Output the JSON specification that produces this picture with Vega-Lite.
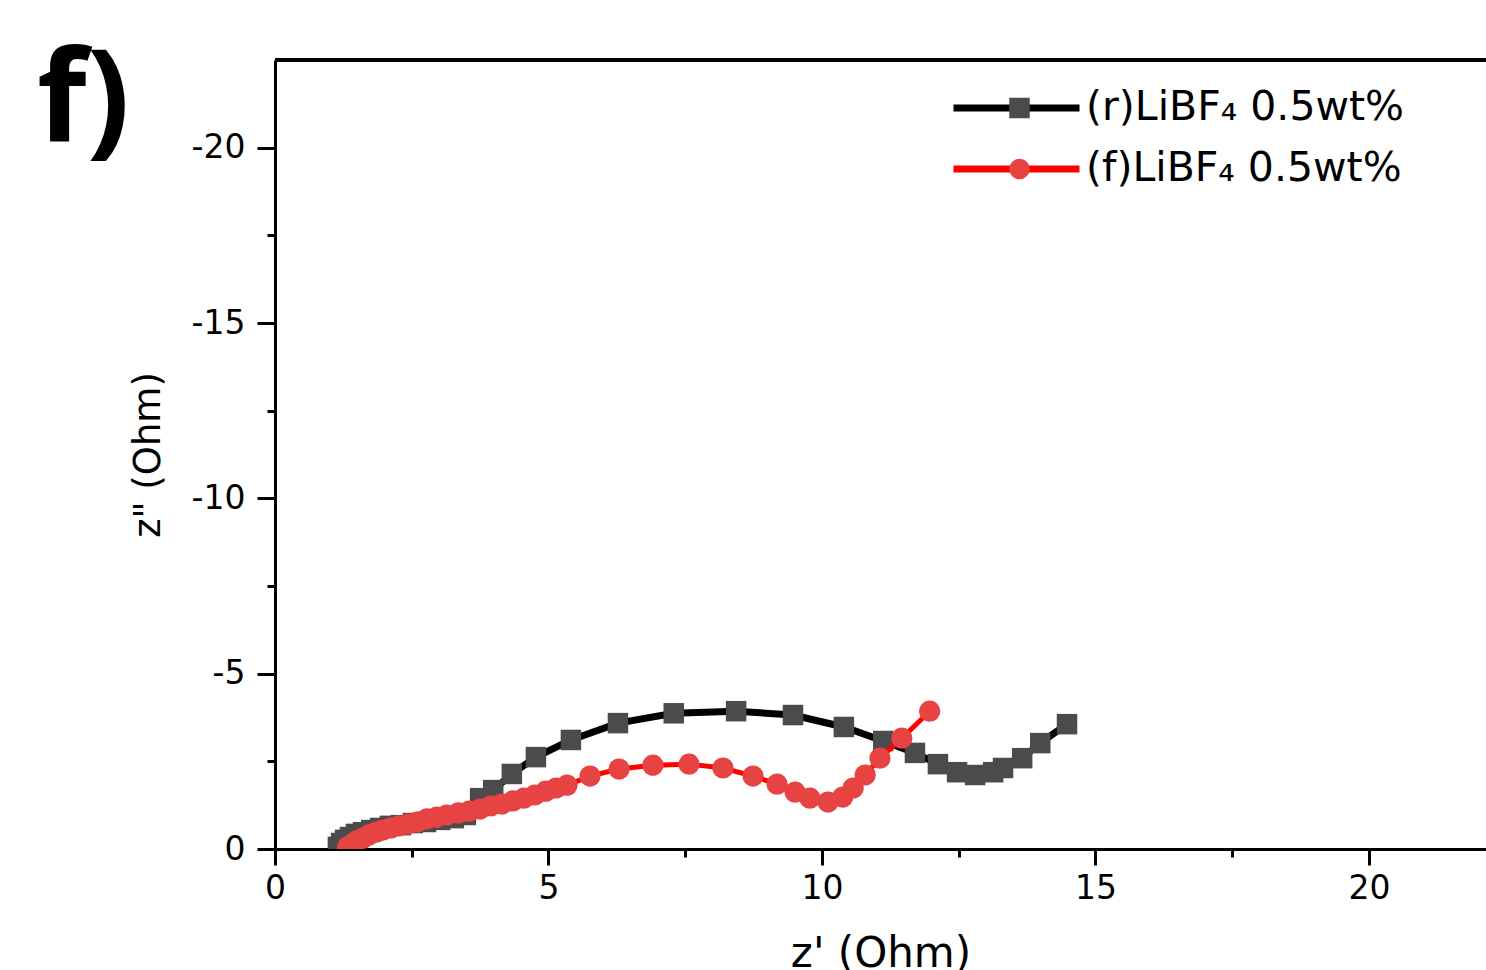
{
  "$schema": "https://vega.github.io/schema/vega-lite/v6.json",
  "autosize": {"type": "none"},
  "padding": {"left": 275, "top": 60, "right": 0, "bottom": 121},
  "width": 1211,
  "height": 789,
  "background": "white",
  "config": {"view": {"stroke": null}},
  "title": {
    "text": "f)",
    "anchor": "start",
    "frame": "group",
    "font": "Open Sans",
    "fontSize": 128,
    "fontWeight": "bold",
    "color": "black",
    "baseline": "alphabetic",
    "offset": 0,
    "dx": -238,
    "dy": 210
  },
  "data": {
    "values": [
      {"series": "(r)LiBF₄ 0.5wt%", "zr": 1.15, "zi": -0.06},
      {"series": "(r)LiBF₄ 0.5wt%", "zr": 1.21, "zi": -0.17},
      {"series": "(r)LiBF₄ 0.5wt%", "zr": 1.28, "zi": -0.26},
      {"series": "(r)LiBF₄ 0.5wt%", "zr": 1.37, "zi": -0.34},
      {"series": "(r)LiBF₄ 0.5wt%", "zr": 1.48, "zi": -0.43},
      {"series": "(r)LiBF₄ 0.5wt%", "zr": 1.61, "zi": -0.48},
      {"series": "(r)LiBF₄ 0.5wt%", "zr": 1.76, "zi": -0.54},
      {"series": "(r)LiBF₄ 0.5wt%", "zr": 1.92, "zi": -0.6},
      {"series": "(r)LiBF₄ 0.5wt%", "zr": 2.1, "zi": -0.66},
      {"series": "(r)LiBF₄ 0.5wt%", "zr": 2.3, "zi": -0.68},
      {"series": "(r)LiBF₄ 0.5wt%", "zr": 2.52, "zi": -0.74},
      {"series": "(r)LiBF₄ 0.5wt%", "zr": 2.76, "zi": -0.77},
      {"series": "(r)LiBF₄ 0.5wt%", "zr": 3.02, "zi": -0.83},
      {"series": "(r)LiBF₄ 0.5wt%", "zr": 3.27, "zi": -0.88},
      {"series": "(r)LiBF₄ 0.5wt%", "zr": 3.49, "zi": -0.97},
      {"series": "(r)LiBF₄ 0.5wt%", "zr": 3.75, "zi": -1.45},
      {"series": "(r)LiBF₄ 0.5wt%", "zr": 3.99, "zi": -1.68},
      {"series": "(r)LiBF₄ 0.5wt%", "zr": 4.33, "zi": -2.14},
      {"series": "(r)LiBF₄ 0.5wt%", "zr": 4.77, "zi": -2.62},
      {"series": "(r)LiBF₄ 0.5wt%", "zr": 5.41, "zi": -3.11},
      {"series": "(r)LiBF₄ 0.5wt%", "zr": 6.27, "zi": -3.59},
      {"series": "(r)LiBF₄ 0.5wt%", "zr": 7.29, "zi": -3.87},
      {"series": "(r)LiBF₄ 0.5wt%", "zr": 8.43, "zi": -3.93},
      {"series": "(r)LiBF₄ 0.5wt%", "zr": 9.47, "zi": -3.82},
      {"series": "(r)LiBF₄ 0.5wt%", "zr": 10.4, "zi": -3.48},
      {"series": "(r)LiBF₄ 0.5wt%", "zr": 11.12, "zi": -3.08},
      {"series": "(r)LiBF₄ 0.5wt%", "zr": 11.7, "zi": -2.74},
      {"series": "(r)LiBF₄ 0.5wt%", "zr": 12.12, "zi": -2.42},
      {"series": "(r)LiBF₄ 0.5wt%", "zr": 12.47, "zi": -2.19},
      {"series": "(r)LiBF₄ 0.5wt%", "zr": 12.8, "zi": -2.11},
      {"series": "(r)LiBF₄ 0.5wt%", "zr": 13.13, "zi": -2.19},
      {"series": "(r)LiBF₄ 0.5wt%", "zr": 13.31, "zi": -2.31},
      {"series": "(r)LiBF₄ 0.5wt%", "zr": 13.66, "zi": -2.59},
      {"series": "(r)LiBF₄ 0.5wt%", "zr": 13.99, "zi": -3.02},
      {"series": "(r)LiBF₄ 0.5wt%", "zr": 14.48, "zi": -3.56},
      {"series": "(f)LiBF₄ 0.5wt%", "zr": 1.33, "zi": -0.06},
      {"series": "(f)LiBF₄ 0.5wt%", "zr": 1.41, "zi": -0.14},
      {"series": "(f)LiBF₄ 0.5wt%", "zr": 1.5, "zi": -0.23},
      {"series": "(f)LiBF₄ 0.5wt%", "zr": 1.61, "zi": -0.31},
      {"series": "(f)LiBF₄ 0.5wt%", "zr": 1.72, "zi": -0.4},
      {"series": "(f)LiBF₄ 0.5wt%", "zr": 1.85, "zi": -0.48},
      {"series": "(f)LiBF₄ 0.5wt%", "zr": 1.97, "zi": -0.54},
      {"series": "(f)LiBF₄ 0.5wt%", "zr": 2.12, "zi": -0.6},
      {"series": "(f)LiBF₄ 0.5wt%", "zr": 2.27, "zi": -0.66},
      {"series": "(f)LiBF₄ 0.5wt%", "zr": 2.43, "zi": -0.71},
      {"series": "(f)LiBF₄ 0.5wt%", "zr": 2.6, "zi": -0.77},
      {"series": "(f)LiBF₄ 0.5wt%", "zr": 2.78, "zi": -0.86},
      {"series": "(f)LiBF₄ 0.5wt%", "zr": 2.96, "zi": -0.91},
      {"series": "(f)LiBF₄ 0.5wt%", "zr": 3.14, "zi": -0.97},
      {"series": "(f)LiBF₄ 0.5wt%", "zr": 3.35, "zi": -1.03},
      {"series": "(f)LiBF₄ 0.5wt%", "zr": 3.55, "zi": -1.08},
      {"series": "(f)LiBF₄ 0.5wt%", "zr": 3.75, "zi": -1.14},
      {"series": "(f)LiBF₄ 0.5wt%", "zr": 3.95, "zi": -1.23},
      {"series": "(f)LiBF₄ 0.5wt%", "zr": 4.15, "zi": -1.28},
      {"series": "(f)LiBF₄ 0.5wt%", "zr": 4.35, "zi": -1.37},
      {"series": "(f)LiBF₄ 0.5wt%", "zr": 4.55, "zi": -1.45},
      {"series": "(f)LiBF₄ 0.5wt%", "zr": 4.75, "zi": -1.54},
      {"series": "(f)LiBF₄ 0.5wt%", "zr": 4.95, "zi": -1.65},
      {"series": "(f)LiBF₄ 0.5wt%", "zr": 5.14, "zi": -1.74},
      {"series": "(f)LiBF₄ 0.5wt%", "zr": 5.34, "zi": -1.82},
      {"series": "(f)LiBF₄ 0.5wt%", "zr": 5.76, "zi": -2.08},
      {"series": "(f)LiBF₄ 0.5wt%", "zr": 6.29, "zi": -2.28},
      {"series": "(f)LiBF₄ 0.5wt%", "zr": 6.91, "zi": -2.39},
      {"series": "(f)LiBF₄ 0.5wt%", "zr": 7.57, "zi": -2.42},
      {"series": "(f)LiBF₄ 0.5wt%", "zr": 8.19, "zi": -2.31},
      {"series": "(f)LiBF₄ 0.5wt%", "zr": 8.74, "zi": -2.08},
      {"series": "(f)LiBF₄ 0.5wt%", "zr": 9.18, "zi": -1.85},
      {"series": "(f)LiBF₄ 0.5wt%", "zr": 9.51, "zi": -1.62},
      {"series": "(f)LiBF₄ 0.5wt%", "zr": 9.78, "zi": -1.45},
      {"series": "(f)LiBF₄ 0.5wt%", "zr": 10.11, "zi": -1.34},
      {"series": "(f)LiBF₄ 0.5wt%", "zr": 10.38, "zi": -1.48},
      {"series": "(f)LiBF₄ 0.5wt%", "zr": 10.57, "zi": -1.74},
      {"series": "(f)LiBF₄ 0.5wt%", "zr": 10.79, "zi": -2.11},
      {"series": "(f)LiBF₄ 0.5wt%", "zr": 11.06, "zi": -2.59},
      {"series": "(f)LiBF₄ 0.5wt%", "zr": 11.46, "zi": -3.16},
      {"series": "(f)LiBF₄ 0.5wt%", "zr": 11.97, "zi": -3.93}
    ]
  },
  "encoding": {
    "x": {
      "field": "zr",
      "type": "quantitative",
      "scale": {"domain": [0, 22.14], "nice": false, "zero": false},
      "axis": {
        "title": "z' (Ohm)",
        "values": [0, 2.5, 5, 7.5, 10, 12.5, 15, 17.5, 20],
        "labelExpr": "datum.value % 5 === 0 ? toString(datum.value) : ''",
        "grid": false,
        "domainColor": "black",
        "domainWidth": 3,
        "tickColor": "black",
        "tickWidth": 3,
        "tickSize": {"condition": {"test": "datum.value % 5 !== 0", "value": 8}, "value": 16},
        "labelFont": "DejaVu Sans",
        "labelFontSize": 33,
        "labelColor": "black",
        "labelPadding": 7,
        "labelFlush": false,
        "titleFont": "DejaVu Sans",
        "titleFontSize": 42,
        "titleFontWeight": "normal",
        "titleColor": "black",
        "titlePadding": 28
      }
    },
    "y": {
      "field": "zi",
      "type": "quantitative",
      "scale": {"domain": [-22.5, 0], "nice": false, "zero": false, "reverse": true},
      "axis": {
        "title": "z\" (Ohm)",
        "values": [0, -2.5, -5, -7.5, -10, -12.5, -15, -17.5, -20],
        "labelExpr": "datum.value % 5 === 0 ? toString(datum.value) : ''",
        "grid": false,
        "domainColor": "black",
        "domainWidth": 3,
        "tickColor": "black",
        "tickWidth": 3,
        "tickSize": {"condition": {"test": "datum.value % 5 !== 0", "value": 8}, "value": 18},
        "labelFont": "DejaVu Sans",
        "labelFontSize": 33,
        "labelColor": "black",
        "labelPadding": 12,
        "labelFlush": false,
        "titleFont": "DejaVu Sans",
        "titleFontSize": 37,
        "titleFontWeight": "normal",
        "titleColor": "black",
        "titlePadding": 24
      }
    }
  },
  "layer": [
    {
      "mark": {"type": "rule", "color": "black", "strokeWidth": 3},
      "encoding": {"y": {"datum": -22.5}, "x": null}
    },
    {
      "transform": [{"filter": "datum.series === '(r)LiBF₄ 0.5wt%'"}],
      "mark": {"type": "line", "strokeWidth": 7, "clip": true},
      "encoding": {
        "stroke": {
          "field": "series",
          "type": "nominal",
          "sort": ["(r)LiBF₄ 0.5wt%", "(f)LiBF₄ 0.5wt%"],
          "scale": {"range": ["#000000", "#ff0000"]},
          "legend": {
            "orient": "none",
            "legendX": 675,
            "legendY": 28,
            "title": null,
            "padding": 0,
            "symbolType": "stroke",
            "symbolSize": 15876,
            "symbolStrokeWidth": 7,
            "labelFont": "DejaVu Sans",
            "labelFontSize": 41,
            "labelColor": "black",
            "labelOffset": 3,
            "labelLimit": 0,
            "clipHeight": 40,
            "rowPadding": 20
          }
        }
      }
    },
    {
      "transform": [{"filter": "datum.series === '(r)LiBF₄ 0.5wt%'"}],
      "mark": {"type": "point", "filled": true, "opacity": 1, "size": 420, "clip": true},
      "encoding": {
        "color": {
          "field": "series",
          "type": "nominal",
          "scale": {"domain": ["(r)LiBF₄ 0.5wt%", "(f)LiBF₄ 0.5wt%"], "range": ["#4b4b4b", "#e84343"]},
          "legend": {
            "orient": "none",
            "legendX": 724,
            "legendY": 28,
            "title": null,
            "padding": 0,
            "symbolSize": 420,
            "symbolStrokeWidth": 0,
            "symbolOpacity": 1,
            "labelExpr": "''",
            "labelFontSize": 41,
            "clipHeight": 40,
            "rowPadding": 20
          }
        },
        "shape": {
          "field": "series",
          "type": "nominal",
          "scale": {"domain": ["(r)LiBF₄ 0.5wt%", "(f)LiBF₄ 0.5wt%"], "range": ["square", "circle"]},
          "legend": {
            "orient": "none",
            "legendX": 724,
            "legendY": 28,
            "title": null,
            "padding": 0,
            "symbolSize": 420,
            "symbolStrokeWidth": 0,
            "symbolOpacity": 1,
            "labelExpr": "''",
            "labelFontSize": 41,
            "clipHeight": 40,
            "rowPadding": 20
          }
        }
      }
    },
    {
      "transform": [{"filter": "datum.series === '(f)LiBF₄ 0.5wt%'"}],
      "mark": {"type": "line", "strokeWidth": 5, "clip": true},
      "encoding": {
        "stroke": {"field": "series", "type": "nominal", "sort": ["(r)LiBF₄ 0.5wt%", "(f)LiBF₄ 0.5wt%"]}
      }
    },
    {
      "transform": [{"filter": "datum.series === '(f)LiBF₄ 0.5wt%'"}],
      "mark": {"type": "point", "filled": true, "opacity": 1, "size": 450, "clip": true},
      "encoding": {
        "color": {"field": "series", "type": "nominal"},
        "shape": {"field": "series", "type": "nominal"}
      }
    }
  ]
}
